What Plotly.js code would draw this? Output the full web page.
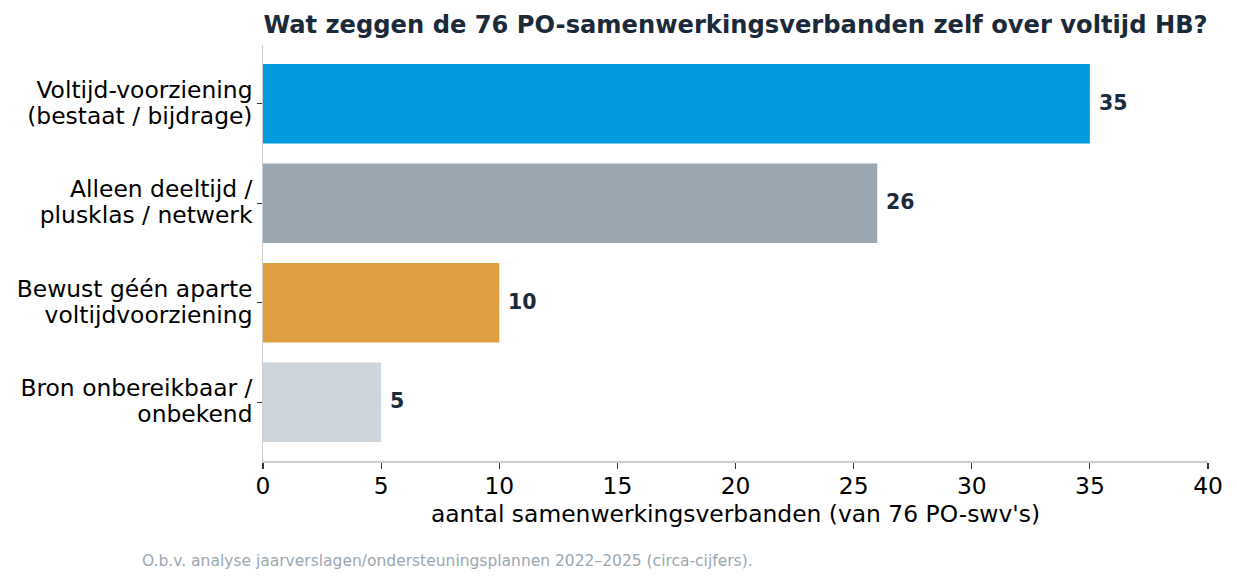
<!DOCTYPE html>
<html><head><meta charset="utf-8">
<script src="https://cdn.plot.ly/plotly-3.0.1.min.js"></script>
<style>body{margin:0;background:#fff}#chart{width:1237px;height:582px}</style>
</head><body><div id="chart"></div>
<script>
const categories = ["Voltijd-voorziening<br>(bestaat / bijdrage)", "Alleen deeltijd /<br>plusklas / netwerk", "Bewust géén aparte<br>voltijdvoorziening", "Bron onbereikbaar /<br>onbekend"];
const values = [35, 26, 10, 5];
const colors = ["#039BDE", "#9AA7B0", "#E0A040", "#CDD4DA"];
const titleText = "Wat zeggen de 76 PO-samenwerkingsverbanden zelf over voltijd HB?";
const xTitle = "aantal samenwerkingsverbanden (van 76 PO-swv's)";
const note = "O.b.v. analyse jaarverslagen/ondersteuningsplannen 2022–2025 (circa-cijfers).";
const font = "DejaVu Sans, sans-serif";

// tick texts: glyphs at 23.4px, line spacing from a 20px base font
const tickText = categories.map(c => c.split('<br>').map(s => '<span style="font-size:23.4px">' + s + '</span>').join('<br>'));

const annotations = values.map((v, i) => ({
  x: v, y: categories[i], xref: 'x', yref: 'y', text: '<b>' + v + '</b>',
  showarrow: false, xanchor: 'left', yanchor: 'middle', xshift: 7, yshift: 1,
  font: {family: font, size: 20.5, color: '#1B2A3A'}
}));
annotations.push({
  x: -0.1305, y: -0.215, xref: 'paper', yref: 'paper', text: note, showarrow: false,
  xanchor: 'left', yanchor: 'top', font: {family: font, size: 15.5, color: '#9AA7B0'}
});

Plotly.newPlot('chart', [{
  type: 'bar', orientation: 'h', x: values, y: categories,
  marker: {color: colors}, width: 0.8, hoverinfo: 'none'
}], {
  width: 1237, height: 582,
  margin: {l: 263, r: 29, t: 45, b: 121},
  paper_bgcolor: '#fff', plot_bgcolor: '#fff',
  font: {family: font, size: 23.4, color: '#000'},
  title: {text: '<b>' + titleText + '</b>', x: 0.5, xref: 'paper', xanchor: 'center',
          y: 0.957, yanchor: 'middle', font: {family: font, size: 24.2, color: '#1B2A3A'}},
  xaxis: {range: [0, 40], dtick: 5, tick0: 0, showgrid: false, zeroline: false,
          showline: true, linecolor: '#CCCCCC', linewidth: 1.5,
          ticks: 'outside', ticklen: 6, tickcolor: '#333', tickwidth: 1.2,
          ticklabelstandoff: -3,
          tickfont: {family: font, size: 23.4, color: '#000'},
          title: {text: xTitle, standoff: 5, font: {family: font, size: 23.4, color: '#000'}}},
  yaxis: {type: 'category', range: [3.59, -0.59], showgrid: false, zeroline: false,
          showline: true, linecolor: '#CCCCCC', linewidth: 1.5,
          ticks: 'outside', ticklen: 5, tickcolor: '#333', tickwidth: 1.2,
          tickmode: 'array', tickvals: categories, ticktext: tickText,
          tickfont: {family: font, size: 20, color: '#000'}},
  annotations: annotations,
  showlegend: false
}, {displayModeBar: false, staticPlot: true});
</script></body></html>
